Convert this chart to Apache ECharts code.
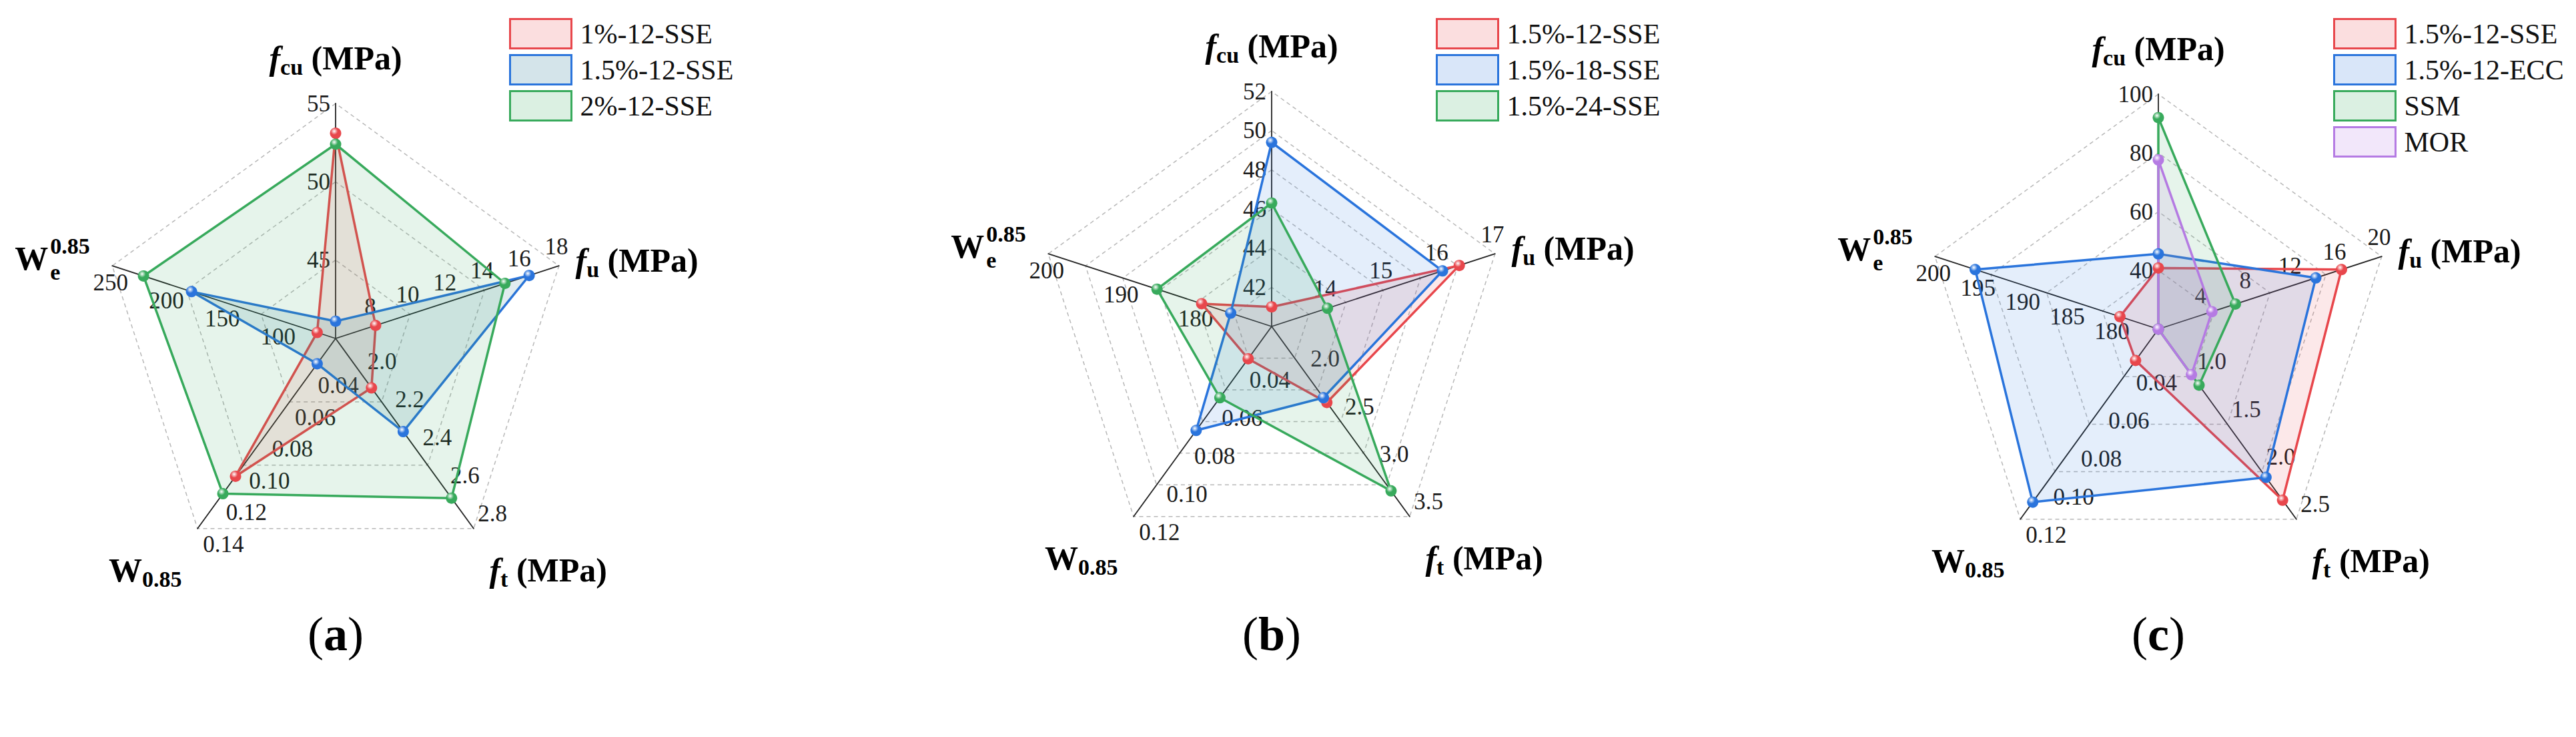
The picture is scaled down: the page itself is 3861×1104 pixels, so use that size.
<!DOCTYPE html>
<html><head><meta charset="utf-8">
<script src="https://cdn.jsdelivr.net/npm/echarts@6/dist/echarts.min.js"></script>
<style>html,body{margin:0;padding:0;background:#fff}#c{width:3861px;height:1104px}</style>
</head><body><div id="c"></div>
<script>
// Data arrays: axis order = [fcu, fu, ft, W0.85, We0.85]
// ---- Chart (a)
const aNames = ['1%-12-SSE', '1.5%-12-SSE', '2%-12-SSE'];
const aMin = [40, 6, 1.8, 0.02, 50];
const aMax = [55, 18, 2.8, 0.14, 250];
const aSplits = [3, 6, 5, 6, 4];
const aTicks = [['45','50','55'], ['8','10','12','14','16','18'], ['2.0','2.2','2.4','2.6','2.8'], ['0.04','0.06','0.08','0.10','0.12','0.14'], ['100','150','200','250']];
const aVal1 = [53.1, 8.15, 2.06, 0.107, 66.5];
const aVal2 = [41.1, 16.4, 2.29, 0.036, 179];
const aVal3 = [52.4, 15.1, 2.64, 0.118, 222];
// ---- Chart (b)
const bNames = ['1.5%-12-SSE', '1.5%-18-SSE', '1.5%-24-SSE'];
const bMin = [40, 13, 1.5, 0.02, 170];
const bMax = [52, 17, 3.5, 0.12, 200];
const bSplits = [6, 4, 4, 5, 3];
const bTicks = [['42','44','46','48','50','52'], ['14','15','16','17'], ['2.0','2.5','3.0','3.5'], ['0.04','0.06','0.08','0.10','0.12'], ['180','190','200']];
const bVal1 = [41.0, 16.36, 2.30, 0.037, 179.4];
const bVal2 = [49.4, 16.06, 2.25, 0.0747, 175.5];
const bVal3 = [46.3, 14.0, 3.23, 0.0575, 185.4];
// ---- Chart (c)
const cNames = ['1.5%-12-SSE', '1.5%-12-ECC', 'SSM', 'MOR'];
const cMin = [20, 0, 0.5, 0.02, 175];
const cMax = [100, 20, 2.5, 0.12, 200];
const cSplits = [4, 5, 4, 5, 5];
const cTicks = [['40','60','80','100'], ['4','8','12','16','20'], ['1.0','1.5','2.0','2.5'], ['0.04','0.06','0.08','0.10','0.12'], ['180','185','190','195','200']];
const cVal1 = [40.8, 16.4, 2.30, 0.0365, 179.3];
const cVal2 = [45.6, 14.1, 2.06, 0.111, 195.5];
const cVal3 = [92.0, 6.9, 1.09, 0.02, 175];
const cVal4 = [77.6, 4.8, 0.98, 0.02, 175];

// axis titles (rich text); We title is built from three stacked pieces
const axisNames = ['{i|f}{s|cu}{b| (MPa)}', '{i|f}{s|u}{b| (MPa)}', '{i|f}{s|t}{b| (MPa)}', '{b|W}{s|0.85}'];
const wePieces = [['{wb|W}', 'right'], ['{sp|0.85}', 'left'], ['{sb|e}', 'left']];
const panelLabels = ['a', 'b', 'c'];

const FONT = "'Liberation Serif', 'Times New Roman', serif";
const RED = '#e8474c', BLUE = '#2a74dc', GREEN = '#38aa5c', PURPLE = '#b57be3';
const R = 352;
const order = [0, 4, 3, 2, 1]; // radar indicator order, counter-clockwise from top

function rgba(hex, a) {
  const n = parseInt(hex.slice(1), 16);
  return 'rgba(' + (n >> 16) + ',' + ((n >> 8) & 255) + ',' + (n & 255) + ',' + a + ')';
}
function ball(c) {
  return { type: 'radial', x: 0.38, y: 0.32, r: 0.7, colorStops: [
    { offset: 0, color: '#ffffff' }, { offset: 0.45, color: c }, { offset: 1, color: c } ] };
}
const richStyles = {
  i: { fontFamily: FONT, fontStyle: 'italic', fontWeight: 'bold', fontSize: 50, lineHeight: 60, color: '#000' },
  b: { fontFamily: FONT, fontWeight: 'bold', fontSize: 50, lineHeight: 60, color: '#000' },
  s: { fontFamily: FONT, fontWeight: 'bold', fontSize: 34, lineHeight: 34, verticalAlign: 'bottom', color: '#000' },
  wb: { fontFamily: FONT, fontWeight: 'bold', fontSize: 50, lineHeight: 50, padding: [40, 0, 0, 0], color: '#000' },
  sp: { fontFamily: FONT, fontWeight: 'bold', fontSize: 34, lineHeight: 34, padding: [2, 0, 0, 3], color: '#000' },
  sb: { fontFamily: FONT, fontWeight: 'bold', fontSize: 34, lineHeight: 34, padding: [81, 0, 0, 3], color: '#000' }
};

const charts = [
  { cx: 503, cy: 507, min: aMin, max: aMax, splits: aSplits, ticks: aTicks, grid: 3,
    names: aNames, vals: [aVal1, aVal2, aVal3], colors: [RED, BLUE, GREEN],
    fills: [rgba(RED, 0.18), 'rgba(40,120,150,0.2)', rgba(GREEN, 0.18)], legX: 758, legY: 22 },
  { cx: 1906, cy: 489, min: bMin, max: bMax, splits: bSplits, ticks: bTicks, grid: 6,
    names: bNames, vals: [bVal1, bVal2, bVal3], colors: [RED, BLUE, GREEN],
    fills: [rgba(RED, 0.18), rgba(BLUE, 0.18), rgba(GREEN, 0.18)], legX: 2147, legY: 22 },
  { cx: 3235, cy: 493, min: cMin, max: cMax, splits: cSplits, ticks: cTicks, grid: 4,
    names: cNames, vals: [cVal1, cVal2, cVal3, cVal4], colors: [RED, BLUE, GREEN, PURPLE],
    fills: [rgba(RED, 0.18), rgba(BLUE, 0.18), rgba(GREEN, 0.18), rgba(PURPLE, 0.18)], legX: 3492, legY: 22 }
];

// per-axis name placement: [nameGap, align, verticalAlign]
const namePlace = [[38, 'center', 'bottom'], [26, 'left', 'middle'], [40, 'left', 'top'], [40, 'right', 'top']];
const weGap = 101;
// per-axis tick label placement: [align, verticalAlign, margin]
const labelPlace = [[null, null, 8], ['center', 'bottom', 12], ['left', 'bottom', 8], ['left', 'top', 10], ['center', 'top', 8]];

const radars = [], series = [], legends = [], graphics = [];
const labelText = { fontFamily: FONT, fontSize: 35, color: '#1a1a1a' };

function baseRadar(ch, splitNumber) {
  return {
    center: [ch.cx, ch.cy], radius: R, startAngle: 90, shape: 'polygon', splitNumber: splitNumber,
    axisName: { show: false }, nameGap: 0,
    axisLine: { show: false }, splitLine: { show: false }, splitArea: { show: false }, axisTick: { show: false },
    axisLabel: Object.assign({ show: false, margin: 8 }, labelText),
    indicator: order.map(k => ({ name: '', min: ch.min[k], max: ch.max[k], axisLabel: { show: false } }))
  };
}

charts.forEach((ch, ci) => {
  // grid radar
  const g = baseRadar(ch, ch.grid);
  g.axisLine = { show: true, lineStyle: { color: '#222', width: 1.8 } };
  g.splitLine = { show: true, lineStyle: { color: '#b8b8b8', width: 1.5, type: [6, 5] } };
  const gridIdx = radars.length;
  radars.push(g);
  // label radars (one per distinct split count)
  const uniq = [...new Set(ch.splits)];
  uniq.forEach(s => {
    const r = baseRadar(ch, s);
    r.indicator.forEach((ind, j) => {
      const k = order[j];
      if (ch.splits[k] === s) {
        const t = ch.ticks[k];
        const lp = labelPlace[k];
        const lab = Object.assign({ show: true, margin: lp[2],
          formatter: (v, idx) => (idx === 0 ? '' : (t[idx - 1] || '')) }, labelText);
        if (lp[0]) lab.align = lp[0];
        if (lp[1]) lab.verticalAlign = lp[1];
        ind.axisLabel = lab;
      }
    });
    radars.push(r);
  });
  // name radars (one per axis title)
  for (let k = 0; k < 4; k++) {
    const r = baseRadar(ch, 1);
    r.axisName = { show: true, align: namePlace[k][1], verticalAlign: namePlace[k][2], rich: richStyles };
    r.nameGap = namePlace[k][0];
    r.indicator[order.indexOf(k)].name = axisNames[k];
    radars.push(r);
  }
  // We title: W, superscript 0.85 and subscript e
  wePieces.forEach(pc => {
    const r = baseRadar(ch, 1);
    r.axisName = { show: true, align: pc[1], verticalAlign: 'middle', rich: richStyles };
    r.nameGap = weGap;
    r.indicator[order.indexOf(4)].name = pc[0];
    radars.push(r);
  });

  series.push({
    type: 'radar', radarIndex: gridIdx, symbol: 'circle', symbolSize: 17, silent: true,
    data: ch.names.map((n, i) => ({
      name: n,
      value: order.map(k => ch.vals[i][k]),
      itemStyle: { color: ball(ch.colors[i]) },
      lineStyle: { color: ch.colors[i], width: 3.5 },
      areaStyle: { color: ch.fills[i] }
    }))
  });

  legends.push({
    left: ch.legX, top: ch.legY, orient: 'vertical', itemWidth: 92, itemHeight: 44, itemGap: 7,
    icon: 'rect', selectedMode: false,
    textStyle: { fontFamily: FONT, fontSize: 42, lineHeight: 44, color: '#111', padding: [0, 0, 0, 8] },
    data: ch.names.map((n, i) => ({ name: n, itemStyle: { color: ch.fills[i], borderColor: ch.colors[i], borderWidth: 3 } }))
  });

  graphics.push({
    type: 'text', x: ch.cx, y: 950,
    style: { text: '{p|(}{q|' + panelLabels[ci] + '}{p|)}', align: 'center', verticalAlign: 'middle',
      rich: { p: { fontFamily: FONT, fontSize: 72, color: '#000' }, q: { fontFamily: FONT, fontWeight: 'bold', fontSize: 72, color: '#000' } } }
  });
});

const chart = echarts.init(document.getElementById('c'), null, { renderer: 'svg' });
chart.setOption({
  backgroundColor: '#fff',
  animation: false,
  radar: radars,
  series: series,
  legend: legends,
  graphic: graphics
});
</script></body></html>
